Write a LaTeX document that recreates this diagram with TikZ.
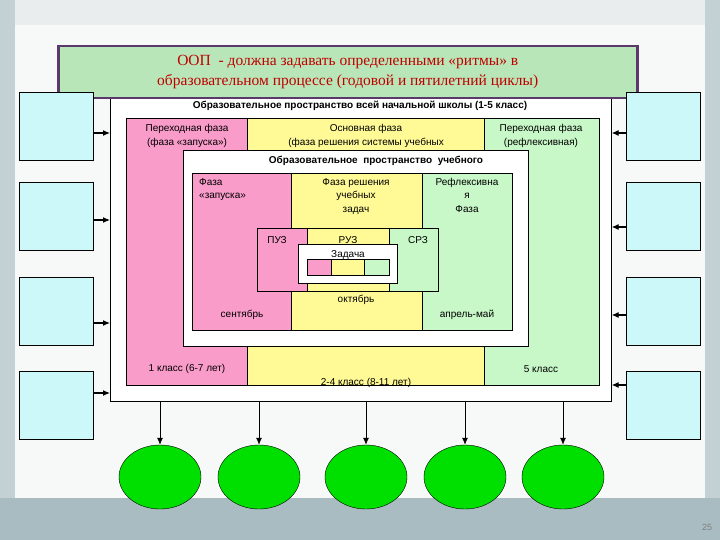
\documentclass[tikz,border=0pt]{standalone}
\usepackage{fontspec}
\setmainfont{Liberation Sans}
\newfontfamily\titlefont{Liberation Serif}
\usetikzlibrary{arrows.meta,shapes.geometric}
\definecolor{pk}{HTML}{F99CC9}
\definecolor{yl}{HTML}{FFFA96}
\definecolor{gr}{HTML}{C8F7C8}
\definecolor{cy}{HTML}{CCF8FA}
\definecolor{bg}{HTML}{EAEDED}
\definecolor{band}{HTML}{A9BCC2}
\definecolor{ttl}{HTML}{B8E6B8}
\definecolor{pur}{HTML}{5B3A6B}
\definecolor{red}{HTML}{C00000}
\definecolor{eg}{HTML}{00E000}
\begin{document}
\begin{tikzpicture}[x=1pt,y=-1pt,
  bx/.style={draw=black,line width=0.7pt},
  t/.style={font=\fontsize{10}{13.5}\selectfont,inner sep=0pt,align=center},
  tb/.style={font=\bfseries\fontsize{10}{12}\selectfont,inner sep=0pt},
  arr/.style={-{Latex[length=7pt,width=6pt]},line width=1.1pt},
  side/.style={bx,fill=cy,minimum width=74pt,minimum height=68pt,inner sep=0pt},
  ell/.style={draw=black,fill=eg,ellipse,minimum width=82pt,minimum height=64pt,inner sep=0pt}]
\useasboundingbox (0,0) rectangle (720,540);
\fill[bg] (0,0) rectangle (720,540);
\fill[band!70] (0,0) rectangle (15,540);
\fill[band!70] (705,0) rectangle (720,540);
\fill[band] (0,498) rectangle (720,540);
\fill[white!60!bg] (15,25) rectangle (705,498);
\node[font=\fontsize{9}{10}\selectfont,text=gray] (pg) at (707,527) {25};
% outer white
\node[bx,fill=white,minimum width=501pt,minimum height=304pt,inner sep=0pt,anchor=north west] (outer) at (110,97) {};
\node[tb] (t1) at (360,106) {Образовательное пространство всей начальной школы (1-5 класс)};
\fill[pk] (126,118) rectangle (247,385);
\fill[yl] (247,118) rectangle (484,385);
\fill[gr] (484,118) rectangle (599,385);
\draw[line width=0.7pt] (126,118) rectangle (599,385) (247,118)--(247,385) (484,118)--(484,385);
\node[t] (a1) at (187,136) {Переходная фаза\\(фаза «запуска»)};
\node[t] (a2) at (366,136) {Основная фаза\\(фаза решения системы учебных};
\node[t] (a3) at (541,136) {Переходная фаза\\(рефлексивная)};
\node[t] (c1) at (187,369) {1 класс (6-7 лет)};
\node[t] (c2) at (366,383) {2-4 класс (8-11 лет)};
\node[t] (c3) at (541,369) {5 класс};
% middle white
\node[bx,fill=white,minimum width=345pt,minimum height=196pt,inner sep=0pt,anchor=north west] (mid) at (183,150) {};
\node[tb] (t2) at (376,161) {Образовательное\ \ пространство\ \ учебного};
\fill[pk] (192,173) rectangle (291,330);
\fill[yl] (291,173) rectangle (422,330);
\fill[gr] (422,173) rectangle (512,330);
\draw[line width=0.7pt] (192,173) rectangle (512,330) (291,173)--(291,330) (422,173)--(422,330);
\node[t,align=left,anchor=north west] (b1) at (199,178) {Фаза\\«запуска»};
\node[t,anchor=north] (b2) at (356,178) {Фаза решения\\учебных\\задач};
\node[t,anchor=north] (b3) at (467,178) {Рефлексивна\\я\\Фаза};
\node[t] (m1) at (356,300) {октябрь};
\node[t] (m2) at (242,315) {сентябрь};
\node[t] (m3) at (467,315) {апрель-май};
% small
\fill[pk] (257,228) rectangle (307,291);
\fill[yl] (307,228) rectangle (389,291);
\fill[gr] (389,228) rectangle (438,291);
\draw[line width=0.7pt] (257,228) rectangle (438,291) (307,228)--(307,291) (389,228)--(389,291);
\node[t] (p1) at (277,240) {ПУЗ};
\node[t] (p2) at (348,240) {РУЗ};
\node[t] (p3) at (418,240) {СРЗ};
\node[bx,fill=white,minimum width=99pt,minimum height=39pt,inner sep=0pt,anchor=north west] (zb) at (298,244) {};
\node[t] (z) at (348,255) {Задача};
\fill[pk] (307,259) rectangle (331,275);
\fill[yl] (331,259) rectangle (364,275);
\fill[gr] (364,259) rectangle (389,275);
\draw[line width=0.7pt] (307,259) rectangle (389,275) (331,259)--(331,275) (364,259)--(364,275);
% title
\node[draw=pur,line width=2.5pt,fill=ttl,minimum width=579pt,minimum height=52pt,inner sep=0pt,anchor=north west,text=red,align=center,font=\titlefont\fontsize{15.5}{20}\selectfont] (title) at (57,45) {ООП\ \ - должна задавать определенными «ритмы» в\\образовательном процессе (годовой и пятилетний циклы)};
% side boxes
\foreach \i/\y/\ya/\yb in {1/126/133/133,2/216/220/227,3/311/323/315,4/405/393/385}{
  \node[side] (L\i) at (56,\y) {};
  \node[side] (R\i) at (663,\y) {};
  \draw[arr] (L\i.east |- 0,\ya) -- (outer.west |- 0,\ya);
  \draw[arr] (R\i.west |- 0,\yb) -- (outer.east |- 0,\yb);
}
\foreach \i/\x in {1/160,2/259,3/366,4/465,5/563}{
  \node[ell] (E\i) at (\x,477) {};
  \draw[arr,line width=0.8pt] (outer.south -| E\i) -- (E\i.north);
}
\end{tikzpicture}
\end{document}
